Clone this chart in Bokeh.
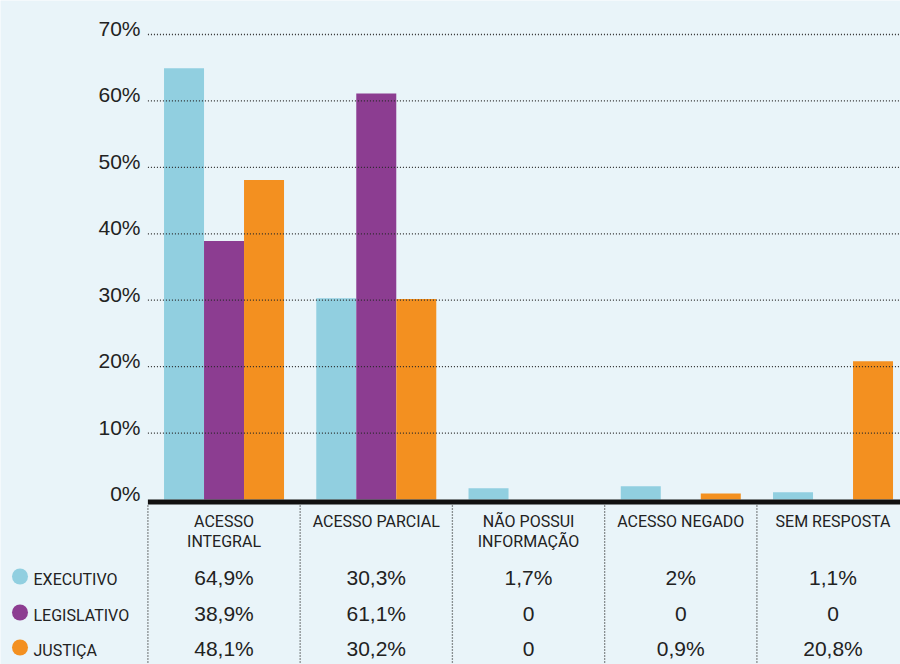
from bokeh.plotting import figure
from bokeh.models import Range1d
from bokeh.core.properties import value
from bokeh.embed import file_html
from bokeh.resources import INLINE

# ---- data ----
categories = ["ACESSO\nINTEGRAL", "ACESSO PARCIAL", "NÃO POSSUI\nINFORMAÇÃO", "ACESSO NEGADO", "SEM RESPOSTA"]
series = ["EXECUTIVO", "LEGISLATIVO", "JUSTIÇA"]
executivo = [64.9, 30.3, 1.7, 2.0, 1.1]
legislativo = [38.9, 61.1, 0.0, 0.0, 0.0]
justica = [48.1, 30.2, 0.0, 0.9, 20.8]
executivo_labels = ["64,9%", "30,3%", "1,7%", "2%", "1,1%"]
legislativo_labels = ["38,9%", "61,1%", "0", "0", "0"]
justica_labels = ["48,1%", "30,2%", "0", "0,9%", "20,8%"]
y_ticks = [0, 10, 20, 30, 40, 50, 60, 70]
y_tick_labels = ["0%", "10%", "20%", "30%", "40%", "50%", "60%", "70%"]

colors = ["#91cfe0", "#8c3d91", "#f39020"]
BG = "#e9f4f9"
FONT = "Liberation Sans"
NARROW = "Roboto"

W, H = 900, 664
COL0 = 147.4      # left edge of first column (px)
COLW = 152.25     # width of a column (px)
ZERO = 499.0      # y pixel of 0%
PXPCT = 6.643     # pixels per percent

def dx(px):
    return (px - COL0) / COLW

def dy(py):
    return (ZERO - py) / PXPCT

p = figure(width=W, height=H, output_backend="svg", toolbar_location=None,
           x_range=Range1d(dx(0), dx(W)), y_range=Range1d(dy(H), dy(0)),
           x_axis_location=None, y_axis_location=None, min_border=0,
           background_fill_color=BG, border_fill_color=BG, outline_line_color=None)
p.grid.visible = False

n = len(categories)
centers = [i + 0.5 for i in range(n)]
bw = 40 / COLW
for k, (vals, col) in enumerate(zip([executivo, legislativo, justica], colors)):
    xs = [c + (k - 1) * bw for c in centers]
    p.vbar(x=xs, top=vals, bottom=0, width=bw, fill_color=col, line_color=None)

# gridlines (dotted, drawn over bars)
grid_y = [t for t in y_ticks if t > 0]
p.segment(x0=[0] * len(grid_y), x1=[dx(W)] * len(grid_y), y0=grid_y, y1=grid_y,
          line_color="#2a2a2a", line_width=1.3, line_dash="1 2")

# zero baseline
p.quad(left=[0], right=[dx(W)], top=[0], bottom=[-5 / PXPCT], fill_color="#111111", line_color=None)

# y tick labels (sit just above their gridline)
p.text(x=[dx(140)] * len(y_ticks), y=y_ticks, text=y_tick_labels, text_align="right",
       text_baseline="middle", y_offset=-6, text_font=value(FONT), text_font_size="21px",
       text_color="#222222")

# column separators
seps = list(range(n))
p.segment(x0=seps, x1=seps, y0=[dy(505)] * n, y1=[dy(H)] * n,
          line_color="#2a2a2a", line_width=1.3, line_dash="1 2")

# header labels
p.text(x=centers, y=[dy(511)] * n, text=categories, text_align="center", text_baseline="top",
       text_font=value(NARROW), text_font_size="16px", text_color="#222222", text_line_height=1.1)

# rows: values + legend
row_py = [577, 613, 648]
for lbls, py, name, col in zip([executivo_labels, legislativo_labels, justica_labels], row_py, series, colors):
    p.text(x=centers, y=[dy(py)] * n, text=lbls, text_align="center", text_baseline="middle",
           text_font=value(FONT), text_font_size="21px", text_color="#222222")
    p.scatter(x=[dx(19.5)], y=[dy(py - 1)], size=16, fill_color=col, line_color=None)
    p.text(x=[dx(33)], y=[dy(py + 2)], text=[name], text_align="left", text_baseline="middle",
           text_font=value(NARROW), text_font_size="16px", text_color="#222222")

open("out.html", "w").write(file_html(p, INLINE))
